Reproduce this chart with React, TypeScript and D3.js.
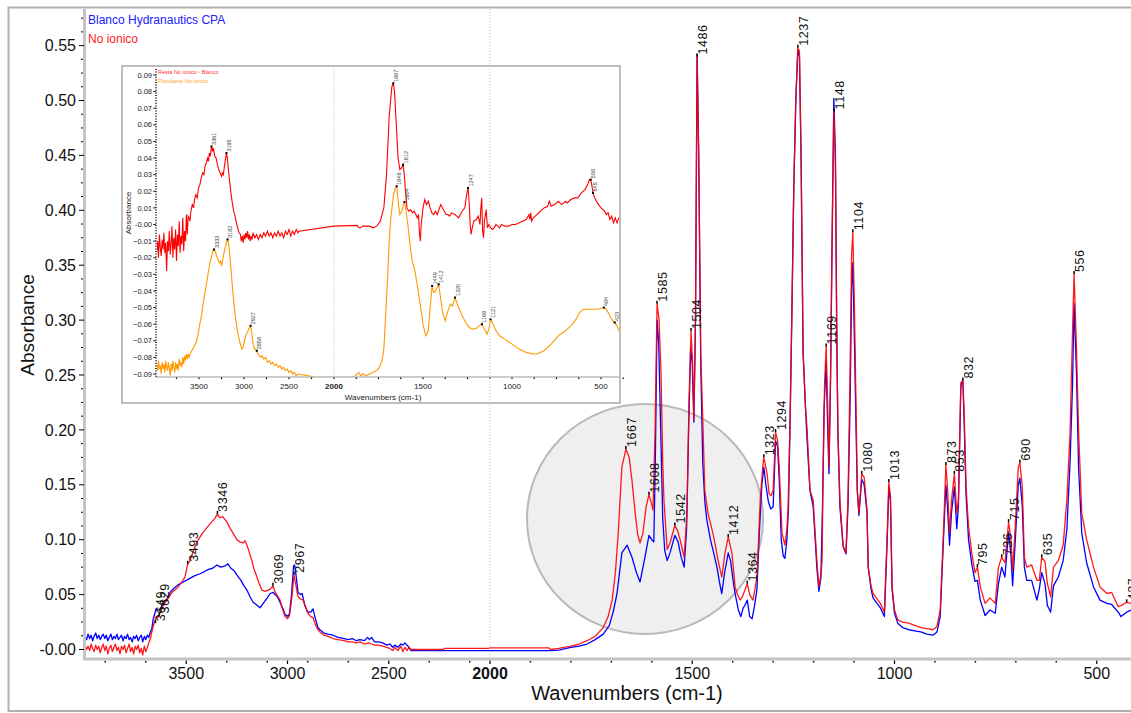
import React from 'react';
import * as d3 from 'd3';

type Pt = [number, number];

// Main chart: "Blanco Hydranautics CPA" (blue)
const blueSpectrum: Pt[] = [
  [4000,0.012],[3992,0.009],[3985,0.014],[3977,0.010],[3970,0.013],[3962,0.008],[3955,0.012],[3947,0.015],[3940,0.010],[3932,0.013],[3925,0.009],[3917,0.012],[3910,0.014],[3902,0.010],[3895,0.013],[3887,0.008],[3880,0.011],[3872,0.014],[3865,0.009],[3857,0.012],[3850,0.010],[3842,0.014],[3835,0.009],[3827,0.011],[3820,0.013],[3812,0.008],[3805,0.012],[3797,0.010],[3790,0.014],[3782,0.009],[3775,0.011],[3767,0.007],[3760,0.012],[3752,0.010],[3745,0.013],[3737,0.008],[3730,0.011],[3722,0.013],[3715,0.007],[3707,0.012],[3700,0.009],[3692,0.013],[3685,0.011],[3677,0.016],[3670,0.019],[3664,0.027],[3655,0.033],[3649,0.037],[3640,0.036],[3630,0.036],[3620,0.040],[3610,0.043],[3595,0.046],[3580,0.052],[3560,0.056],[3540,0.059],[3520,0.061],[3500,0.063],[3480,0.065],[3460,0.067],[3432,0.069],[3410,0.071],[3390,0.073],[3370,0.074],[3348,0.077],[3330,0.075],[3310,0.076],[3294,0.078],[3280,0.074],[3265,0.072],[3250,0.068],[3230,0.063],[3215,0.058],[3200,0.054],[3185,0.048],[3170,0.043],[3155,0.041],[3136,0.038],[3120,0.042],[3100,0.047],[3086,0.051],[3070,0.052],[3062,0.050],[3050,0.048],[3037,0.043],[3020,0.036],[3012,0.032],[2998,0.030],[2990,0.033],[2980,0.050],[2970,0.076],[2965,0.077],[2958,0.068],[2948,0.052],[2935,0.050],[2928,0.051],[2914,0.040],[2900,0.034],[2885,0.034],[2874,0.037],[2865,0.030],[2850,0.020],[2840,0.018],[2820,0.015],[2800,0.014],[2775,0.013],[2750,0.011],[2720,0.010],[2700,0.009],[2680,0.010],[2660,0.008],[2642,0.009],[2620,0.008],[2605,0.011],[2595,0.009],[2585,0.011],[2570,0.007],[2550,0.007],[2530,0.006],[2510,0.004],[2495,0.005],[2480,0.002],[2470,0.004],[2455,0.002],[2440,0.005],[2430,0.004],[2420,0.006],[2410,0.004],[2400,0.002],[2390,-0.001],[2200,-0.001],[2000,-0.001],[1900,-0.001],[1850,-0.001],[1830,-0.0005],[1800,0.002],[1780,0.003],[1760,0.005],[1740,0.009],[1720,0.014],[1705,0.022],[1695,0.035],[1686,0.051],[1674,0.088],[1661,0.095],[1649,0.084],[1638,0.070],[1629,0.0615],[1617,0.084],[1607,0.104],[1600,0.100],[1595,0.098],[1591,0.18],[1587,0.30],[1583,0.28],[1578,0.20],[1573,0.12],[1568,0.09],[1562,0.081],[1555,0.088],[1543,0.104],[1535,0.098],[1528,0.085],[1520,0.075],[1514,0.11],[1509,0.20],[1504,0.275],[1500,0.26],[1496,0.207],[1492,0.30],[1488,0.542],[1484,0.45],[1479,0.26],[1474,0.17],[1469,0.135],[1464,0.118],[1455,0.100],[1447,0.088],[1439,0.075],[1432,0.060],[1427,0.051],[1420,0.070],[1411,0.088],[1405,0.080],[1398,0.060],[1394,0.051],[1386,0.036],[1380,0.030],[1374,0.038],[1370,0.040],[1364,0.045],[1358,0.030],[1352,0.028],[1346,0.040],[1340,0.055],[1335,0.10],[1328,0.150],[1323,0.166],[1318,0.150],[1312,0.135],[1306,0.128],[1300,0.130],[1294,0.19],[1289,0.185],[1285,0.155],[1280,0.10],[1275,0.085],[1271,0.083],[1266,0.10],[1262,0.13],[1258,0.21],[1254,0.30],[1249,0.42],[1244,0.50],[1239,0.546],[1235,0.54],[1231,0.45],[1226,0.27],[1220,0.22],[1216,0.19],[1209,0.145],[1201,0.13],[1196,0.10],[1192,0.075],[1187,0.053],[1182,0.065],[1178,0.13],[1174,0.22],[1169,0.262],[1165,0.20],[1162,0.16],[1158,0.25],[1155,0.35],[1150,0.502],[1146,0.45],[1143,0.30],[1140,0.20],[1135,0.13],[1127,0.094],[1120,0.087],[1115,0.13],[1110,0.22],[1106,0.33],[1103,0.352],[1099,0.28],[1095,0.20],[1092,0.145],[1088,0.122],[1081,0.155],[1075,0.15],[1068,0.125],[1065,0.075],[1058,0.055],[1053,0.047],[1045,0.043],[1035,0.038],[1025,0.030],[1018,0.10],[1014,0.148],[1010,0.135],[1006,0.055],[1000,0.033],[992,0.024],[980,0.020],[965,0.018],[950,0.017],[935,0.016],[920,0.014],[905,0.013],[895,0.016],[887,0.030],[879,0.10],[873,0.150],[869,0.13],[864,0.095],[859,0.125],[852,0.148],[846,0.110],[842,0.13],[836,0.24],[831,0.245],[828,0.21],[823,0.14],[817,0.10],[809,0.078],[801,0.062],[795,0.063],[788,0.045],[776,0.031],[764,0.036],[751,0.033],[743,0.060],[735,0.075],[727,0.066],[718,0.107],[712,0.085],[708,0.058],[702,0.095],[694,0.150],[690,0.156],[684,0.13],[679,0.075],[673,0.063],[661,0.063],[648,0.045],[642,0.055],[636,0.070],[628,0.060],[622,0.040],[614,0.034],[607,0.058],[595,0.066],[583,0.081],[574,0.109],[566,0.17],[560,0.24],[556,0.315],[550,0.25],[545,0.166],[537,0.106],[525,0.079],[508,0.057],[492,0.045],[475,0.042],[463,0.041],[447,0.034],[440,0.030],[426,0.034],[415,0.036]
];

// Main chart: "No ionico" (red)
const redSpectrum: Pt[] = [
  [4000,0.004],[3992,0.000],[3985,0.003],[3977,-0.001],[3970,0.005],[3962,0.001],[3955,-0.002],[3947,0.004],[3940,0.000],[3932,0.003],[3925,-0.003],[3917,0.002],[3910,0.005],[3902,-0.001],[3895,0.003],[3887,-0.004],[3880,0.001],[3872,0.004],[3865,-0.002],[3857,0.002],[3850,0.005],[3842,-0.001],[3835,0.002],[3827,-0.004],[3820,0.003],[3812,0.000],[3805,0.004],[3797,-0.003],[3790,0.001],[3782,0.005],[3775,-0.002],[3767,0.002],[3760,-0.004],[3752,0.003],[3745,0.000],[3737,0.004],[3730,-0.003],[3722,0.001],[3715,-0.005],[3707,0.003],[3700,-0.002],[3692,0.002],[3685,0.006],[3677,0.010],[3670,0.016],[3664,0.0205],[3655,0.026],[3649,0.030],[3640,0.029],[3630,0.033],[3615,0.040],[3595,0.045],[3570,0.052],[3540,0.057],[3520,0.062],[3506,0.066],[3493,0.078],[3481,0.081],[3465,0.090],[3447,0.098],[3420,0.106],[3398,0.111],[3375,0.116],[3360,0.119],[3346,0.1235],[3335,0.120],[3320,0.121],[3299,0.116],[3285,0.111],[3269,0.106],[3250,0.100],[3235,0.098],[3220,0.097],[3210,0.099],[3200,0.095],[3188,0.088],[3176,0.081],[3165,0.073],[3151,0.066],[3140,0.060],[3126,0.054],[3110,0.053],[3096,0.054],[3085,0.055],[3072,0.058],[3060,0.052],[3050,0.049],[3037,0.045],[3025,0.037],[3012,0.030],[3000,0.028],[2990,0.031],[2978,0.048],[2968,0.068],[2960,0.060],[2948,0.048],[2935,0.046],[2923,0.045],[2910,0.038],[2899,0.033],[2885,0.030],[2874,0.029],[2865,0.024],[2850,0.018],[2840,0.016],[2820,0.013],[2800,0.012],[2775,0.010],[2750,0.009],[2720,0.008],[2700,0.007],[2680,0.007],[2660,0.006],[2642,0.007],[2620,0.005],[2600,0.006],[2585,0.005],[2570,0.004],[2550,0.004],[2530,0.003],[2510,0.002],[2495,0.001],[2480,-0.001],[2470,0.002],[2455,-0.001],[2440,0.003],[2430,-0.002],[2420,0.002],[2410,-0.001],[2400,0.002],[2390,0.000],[2230,0.000],[2225,0.001],[2005,0.001],[2000,0.0015],[1855,0.0015],[1850,0.000],[1830,0.001],[1800,0.003],[1780,0.005],[1760,0.008],[1740,0.012],[1720,0.020],[1708,0.030],[1698,0.045],[1690,0.070],[1683,0.106],[1674,0.166],[1664,0.1825],[1656,0.175],[1649,0.154],[1641,0.124],[1635,0.105],[1629,0.097],[1622,0.106],[1614,0.130],[1607,0.141],[1600,0.132],[1597,0.127],[1592,0.197],[1587,0.315],[1582,0.30],[1577,0.25],[1573,0.17],[1570,0.136],[1562,0.091],[1555,0.097],[1543,0.113],[1536,0.108],[1530,0.100],[1520,0.084],[1513,0.124],[1508,0.227],[1503,0.29],[1499,0.26],[1496,0.209],[1492,0.30],[1488,0.54],[1484,0.45],[1479,0.27],[1473,0.197],[1469,0.145],[1461,0.124],[1449,0.106],[1443,0.095],[1436,0.081],[1427,0.066],[1419,0.088],[1411,0.1025],[1402,0.088],[1394,0.057],[1388,0.050],[1382,0.045],[1376,0.048],[1370,0.054],[1364,0.060],[1358,0.050],[1350,0.045],[1345,0.055],[1340,0.066],[1336,0.10],[1332,0.136],[1326,0.165],[1323,0.175],[1315,0.160],[1310,0.142],[1305,0.140],[1300,0.145],[1294,0.198],[1289,0.19],[1285,0.166],[1278,0.106],[1271,0.095],[1266,0.11],[1263,0.130],[1258,0.212],[1254,0.30],[1249,0.42],[1244,0.50],[1239,0.548],[1235,0.545],[1231,0.45],[1226,0.273],[1220,0.22],[1216,0.20],[1209,0.145],[1201,0.136],[1196,0.105],[1192,0.081],[1187,0.057],[1182,0.068],[1179,0.081],[1177,0.148],[1173,0.24],[1169,0.276],[1165,0.22],[1162,0.166],[1158,0.25],[1155,0.35],[1150,0.49],[1146,0.44],[1143,0.30],[1140,0.20],[1135,0.136],[1127,0.094],[1120,0.088],[1115,0.136],[1110,0.25],[1106,0.36],[1103,0.38],[1099,0.31],[1095,0.22],[1092,0.145],[1088,0.124],[1081,0.16],[1075,0.157],[1068,0.127],[1065,0.075],[1058,0.058],[1053,0.051],[1045,0.047],[1035,0.042],[1025,0.034],[1018,0.106],[1014,0.1525],[1010,0.14],[1006,0.057],[1000,0.036],[992,0.027],[980,0.025],[965,0.024],[950,0.022],[935,0.020],[920,0.019],[905,0.018],[895,0.021],[887,0.036],[879,0.106],[873,0.168],[869,0.148],[864,0.106],[859,0.136],[852,0.16],[846,0.124],[842,0.136],[836,0.243],[831,0.245],[828,0.218],[823,0.148],[817,0.112],[809,0.088],[801,0.070],[795,0.075],[788,0.057],[776,0.042],[764,0.047],[751,0.042],[743,0.075],[735,0.084],[727,0.079],[718,0.116],[712,0.100],[708,0.072],[702,0.109],[694,0.166],[690,0.170],[684,0.148],[679,0.084],[673,0.075],[661,0.077],[648,0.063],[642,0.063],[636,0.084],[628,0.080],[622,0.060],[614,0.048],[607,0.075],[595,0.081],[583,0.095],[574,0.136],[566,0.197],[560,0.288],[556,0.342],[550,0.273],[545,0.20],[537,0.124],[525,0.10],[508,0.075],[492,0.057],[475,0.051],[463,0.052],[447,0.039],[440,0.040],[426,0.043],[415,0.042]
];

// Inset: "Resta No ionico - Blanco" (red)
const insetResta: Pt[] = [
  [4000,-0.012],[3990,-0.018],[3980,-0.008],[3970,-0.016],[3960,-0.010],[3950,-0.020],[3940,-0.006],[3930,-0.014],[3920,-0.019],[3910,-0.009],[3900,-0.015],[3890,-0.005],[3880,-0.017],[3870,-0.011],[3860,-0.028],[3850,-0.010],[3840,-0.016],[3830,-0.004],[3820,-0.018],[3810,-0.012],[3800,-0.001],[3790,-0.020],[3780,-0.008],[3770,-0.015],[3760,-0.003],[3750,-0.022],[3740,-0.006],[3730,-0.013],[3720,0.002],[3710,-0.017],[3700,-0.007],[3690,-0.012],[3680,0.004],[3670,-0.016],[3660,-0.004],[3650,-0.010],[3640,0.006],[3630,-0.006],[3620,0.005],[3610,0.004],[3600,0.002],[3590,0.008],[3575,0.012],[3560,0.010],[3550,0.015],[3535,0.018],[3520,0.016],[3505,0.022],[3490,0.024],[3475,0.028],[3460,0.031],[3445,0.030],[3433,0.035],[3420,0.037],[3405,0.040],[3395,0.038],[3385,0.043],[3375,0.041],[3361,0.047],[3350,0.044],[3340,0.046],[3325,0.041],[3310,0.040],[3295,0.036],[3280,0.033],[3265,0.031],[3250,0.029],[3240,0.031],[3230,0.030],[3220,0.034],[3210,0.038],[3195,0.043],[3185,0.040],[3175,0.034],[3160,0.026],[3145,0.019],[3130,0.013],[3115,0.008],[3100,0.005],[3085,0.001],[3070,-0.002],[3055,-0.005],[3040,-0.006],[3030,-0.010],[3020,-0.007],[3010,-0.011],[3000,-0.006],[2990,-0.009],[2980,-0.005],[2970,-0.008],[2960,-0.004],[2950,-0.009],[2940,-0.006],[2930,-0.010],[2920,-0.007],[2910,-0.009],[2900,-0.005],[2880,-0.008],[2860,-0.006],[2840,-0.009],[2820,-0.006],[2800,-0.008],[2780,-0.005],[2760,-0.007],[2740,-0.004],[2720,-0.007],[2700,-0.005],[2680,-0.008],[2660,-0.005],[2640,-0.007],[2620,-0.004],[2600,-0.007],[2580,-0.005],[2560,-0.008],[2540,-0.004],[2520,-0.006],[2500,-0.003],[2480,-0.007],[2460,-0.004],[2440,-0.006],[2420,-0.003],[2400,-0.005],[2390,-0.004],[2000,-0.001],[1870,-0.0005],[1860,-0.002],[1850,-0.002],[1840,-0.001],[1800,-0.001],[1780,-0.002],[1760,-0.001],[1740,0.002],[1720,0.010],[1705,0.030],[1690,0.065],[1675,0.083],[1667,0.085],[1660,0.080],[1650,0.060],[1640,0.040],[1630,0.033],[1620,0.034],[1612,0.036],[1605,0.030],[1598,0.020],[1590,0.010],[1580,0.008],[1570,0.009],[1560,0.007],[1550,0.008],[1540,0.006],[1532,0.004],[1525,0.006],[1520,-0.005],[1515,-0.010],[1510,0.000],[1500,0.010],[1490,0.015],[1480,0.012],[1470,0.014],[1460,0.010],[1450,0.007],[1440,0.006],[1430,0.008],[1420,0.006],[1410,0.009],[1400,0.012],[1390,0.010],[1380,0.008],[1370,0.006],[1360,0.006],[1350,0.005],[1340,0.007],[1320,0.006],[1300,0.004],[1280,0.008],[1265,0.010],[1255,0.018],[1247,0.022],[1240,0.012],[1235,0.000],[1230,-0.006],[1225,-0.003],[1215,0.002],[1200,0.003],[1190,0.005],[1180,0.000],[1175,0.010],[1170,0.016],[1165,-0.004],[1160,-0.008],[1155,0.002],[1145,0.009],[1138,-0.002],[1130,0.000],[1120,-0.002],[1110,-0.003],[1100,-0.002],[1090,0.000],[1080,-0.001],[1070,-0.002],[1060,0.000],[1040,-0.001],[1020,-0.001],[1000,0.000],[980,0.000],[960,0.001],[940,0.002],[920,0.003],[905,0.006],[900,0.003],[895,0.007],[890,0.002],[880,0.004],[860,0.006],[840,0.008],[820,0.010],[800,0.011],[790,0.014],[780,0.011],[760,0.012],[740,0.014],[720,0.012],[700,0.014],[690,0.013],[670,0.015],[650,0.016],[630,0.016],[610,0.019],[590,0.021],[575,0.024],[565,0.027],[558,0.027],[552,0.024],[545,0.019],[535,0.016],[520,0.013],[500,0.010],[480,0.008],[470,0.006],[460,0.007],[450,0.003],[440,0.005],[430,0.001],[420,0.004],[410,0.001],[400,0.004]
];

// Inset: "Floculante No ionico" (orange)
const insetFloculante: Pt[] = [
  [4000,-0.086],[3990,-0.083],[3980,-0.089],[3970,-0.084],[3960,-0.088],[3950,-0.082],[3940,-0.087],[3930,-0.085],[3920,-0.090],[3910,-0.083],[3900,-0.087],[3890,-0.084],[3880,-0.089],[3870,-0.082],[3860,-0.086],[3850,-0.088],[3840,-0.083],[3830,-0.087],[3820,-0.091],[3810,-0.084],[3800,-0.088],[3790,-0.082],[3780,-0.086],[3770,-0.089],[3760,-0.083],[3750,-0.087],[3740,-0.084],[3730,-0.088],[3720,-0.081],[3710,-0.085],[3700,-0.083],[3690,-0.086],[3680,-0.080],[3670,-0.084],[3660,-0.079],[3650,-0.082],[3640,-0.078],[3630,-0.081],[3620,-0.078],[3610,-0.080],[3600,-0.078],[3580,-0.076],[3560,-0.074],[3540,-0.072],[3526,-0.070],[3510,-0.066],[3495,-0.061],[3480,-0.057],[3470,-0.054],[3455,-0.048],[3440,-0.043],[3425,-0.038],[3411,-0.034],[3395,-0.028],[3378,-0.023],[3360,-0.019],[3345,-0.016],[3333,-0.015],[3320,-0.016],[3305,-0.019],[3290,-0.021],[3275,-0.023],[3260,-0.022],[3250,-0.025],[3240,-0.022],[3225,-0.018],[3210,-0.014],[3195,-0.011],[3182,-0.009],[3170,-0.012],[3155,-0.020],[3140,-0.030],[3125,-0.040],[3110,-0.049],[3090,-0.058],[3070,-0.065],[3050,-0.070],[3035,-0.073],[3022,-0.075],[3010,-0.074],[2995,-0.070],[2975,-0.066],[2955,-0.064],[2940,-0.062],[2927,-0.061],[2915,-0.065],[2900,-0.071],[2885,-0.075],[2870,-0.075],[2858,-0.076],[2845,-0.078],[2830,-0.079],[2815,-0.080],[2800,-0.079],[2780,-0.081],[2760,-0.080],[2740,-0.083],[2720,-0.082],[2700,-0.084],[2680,-0.083],[2660,-0.085],[2640,-0.084],[2620,-0.086],[2600,-0.085],[2580,-0.087],[2560,-0.086],[2540,-0.088],[2520,-0.087],[2500,-0.089],[2480,-0.088],[2460,-0.090],[2440,-0.089],[2420,-0.091],[2400,-0.090],[2300,-0.091],[2200,-0.092],[2000,-0.092],[1900,-0.092],[1880,-0.091],[1860,-0.089],[1850,-0.091],[1835,-0.090],[1820,-0.091],[1800,-0.090],[1780,-0.089],[1760,-0.088],[1745,-0.086],[1730,-0.082],[1720,-0.075],[1710,-0.055],[1700,-0.035],[1690,-0.010],[1680,0.005],[1665,0.018],[1655,0.022],[1648,0.023],[1638,0.012],[1630,0.006],[1620,0.008],[1610,0.012],[1604,0.0135],[1595,0.008],[1585,0.000],[1570,-0.015],[1560,-0.022],[1545,-0.028],[1520,-0.045],[1500,-0.060],[1485,-0.067],[1470,-0.064],[1460,-0.050],[1449,-0.037],[1440,-0.041],[1430,-0.040],[1412,-0.036],[1400,-0.045],[1390,-0.053],[1375,-0.058],[1360,-0.052],[1345,-0.048],[1335,-0.049],[1320,-0.044],[1300,-0.050],[1280,-0.055],[1260,-0.059],[1240,-0.062],[1220,-0.063],[1200,-0.0625],[1185,-0.061],[1169,-0.060],[1155,-0.063],[1140,-0.066],[1130,-0.063],[1121,-0.057],[1110,-0.059],[1090,-0.064],[1070,-0.067],[1040,-0.069],[1000,-0.072],[960,-0.075],[920,-0.077],[880,-0.078],[860,-0.078],[820,-0.076],[780,-0.072],[740,-0.067],[700,-0.064],[660,-0.060],[640,-0.057],[620,-0.053],[600,-0.051],[560,-0.051],[520,-0.051],[484,-0.050],[470,-0.051],[450,-0.055],[435,-0.058],[423,-0.059],[410,-0.061],[400,-0.064]
];

// Peak labels: [text, wavenumber, absorbance at the marker]
const mainPeakLabels: [string, number, number][] = [
  ['3649', 3652, 0.024], ['3629', 3633, 0.031], ['3493', 3493, 0.078], ['3346', 3346, 0.1235],
  ['3069', 3072, 0.058], ['2967', 2968, 0.068], ['1667', 1664, 0.1825], ['1608', 1607, 0.141],
  ['1585', 1587, 0.315], ['1542', 1543, 0.113], ['1504', 1503, 0.29], ['1486', 1488, 0.54],
  ['1412', 1411, 0.1025], ['1364', 1364, 0.060], ['1323', 1323, 0.175], ['1294', 1294, 0.198],
  ['1237', 1239, 0.548], ['1169', 1169, 0.276], ['1148', 1150, 0.49], ['1104', 1103, 0.38],
  ['1080', 1081, 0.16], ['1013', 1014, 0.1525], ['873', 873, 0.168], ['853', 852, 0.16],
  ['832', 831, 0.245], ['795', 795, 0.075], ['736', 735, 0.084], ['715', 718, 0.116],
  ['690', 690, 0.170], ['635', 636, 0.084], ['556', 556, 0.342], ['427', 426, 0.043]
];
const insetRestaPeaks: [string, number, number][] = [
  ['3361', 3361, 0.047], ['3195', 3195, 0.043], ['1667', 1667, 0.085], ['1612', 1612, 0.036],
  ['1247', 1247, 0.022], ['558', 558, 0.027], ['545', 545, 0.019]
];
const insetFloculantePeaks: [string, number, number][] = [
  ['3333', 3333, -0.015], ['3182', 3182, -0.009], ['2927', 2927, -0.061], ['2858', 2858, -0.076],
  ['1648', 1648, 0.023], ['1604', 1604, 0.0135], ['1449', 1449, -0.037], ['1412', 1412, -0.036],
  ['1320', 1320, -0.044], ['1169', 1169, -0.060], ['1121', 1121, -0.057], ['484', 484, -0.050],
  ['423', 423, -0.059]
];

const xMajorTicks = [3500, 3000, 2500, 2000, 1500, 1000, 500];
const xMinorTicks = [3900, 3700, 3300, 3100, 2900, 2700, 2300, 2100, 1900, 1800, 1700, 1600, 1400, 1300, 1200, 1100, 900, 800, 700, 600];
const yMajorTicks = [0, 0.05, 0.1, 0.15, 0.2, 0.25, 0.3, 0.35, 0.4, 0.45, 0.5, 0.55];
const insetYTicks = [0.09, 0.08, 0.07, 0.06, 0.05, 0.04, 0.03, 0.02, 0.01, 0, -0.01, -0.02, -0.03, -0.04, -0.05, -0.06, -0.07, -0.08, -0.09];
const insetXMinor = [3750, 3250, 2750, 2250, 1875, 1750, 1625, 1375, 1250, 1125, 875, 750, 625, 375];

const FONT = 'Liberation Sans, Arial, Helvetica, sans-serif';

export default function App() {
  const W = 1131, H = 713;
  const x = d3.scaleLinear().domain([4000, 2000, 400]).range([85, 490, 1137.2]);
  const y = d3.scaleLinear().domain([0, 0.55]).range([649.5, 45.6]);
  const line = d3.line<Pt>().x(d => x(d[0])).y(d => y(d[1]));

  const xi = d3.scaleLinear().domain([4000, 2000, 400]).range([154, 334, 618.8]);
  const yi = d3.scaleLinear().domain([-0.09, 0.09]).range([374, 75]);
  const iline = d3.line<Pt>().x(d => xi(d[0])).y(d => yi(d[1]));

  const yMinor = d3.range(0, 0.58, 0.0125).filter(v => Math.abs(v / 0.05 - Math.round(v / 0.05)) > 0.01);
  const fmtY = (v: number) => (Math.abs(v) < 1e-9 ? '-0.00' : d3.format('.2f')(v));
  const fmtYi = (v: number) => (Math.abs(v) < 1e-9 ? '-0.00' : d3.format('.2f')(v));

  return (
    <svg width={W} height={H} style={{ position: 'absolute', left: 0, top: 0, background: '#fff' }} fontFamily={FONT}>
      <defs>
        <clipPath id="mainClip"><rect x={86} y={9} width={W - 86} height={649} /></clipPath>
        <clipPath id="insetClip"><rect x={157} y={68} width={463} height={309} /></clipPath>
      </defs>
      <rect x={0} y={0} width={W} height={H} fill="#fff" />
      {/* outer frame */}
      <rect x={8.5} y={7.5} width={W + 10} height={703.5} fill="none" stroke="#b0b0b0" strokeWidth={2} />

      {/* highlight circle */}
      <ellipse cx={645} cy={519} rx={118} ry={115} fill="#efefef" stroke="#b9b9b9" strokeWidth={2} />

      {/* main spectra */}
      <g clipPath="url(#mainClip)">
        <path d={line(blueSpectrum) || ''} fill="none" stroke="#0000ff" strokeWidth={1.3} strokeLinejoin="round" />
        <path d={line(redSpectrum) || ''} fill="none" stroke="#ff0000" strokeWidth={1.3} strokeLinejoin="round" strokeOpacity={0.9} />
        {mainPeakLabels.map(([t, wn, v], i) => {
          const px = x(wn), py = y(v);
          return (
            <g key={i}>
              <line x1={px} x2={px} y1={py} y2={py - 3} stroke="#000" strokeWidth={1.5} />
              <text transform={`translate(${px + 10},${py - 2}) rotate(-90)`} fontSize={12.5} letterSpacing={0.6} fill="#111">{t}</text>
            </g>
          );
        })}
      </g>

      {/* inset */}
      <rect x={122} y={66} width={498} height={337} fill="#fff" stroke="#a8a8a8" strokeWidth={1.5} />
      <line x1={xi(2000)} x2={xi(2000)} y1={68} y2={377} stroke="#c8c8c8" strokeWidth={1} strokeDasharray="1 1.5" />
      <g clipPath="url(#insetClip)">
        <path d={iline(insetFloculante) || ''} fill="none" stroke="#ff9900" strokeWidth={1.1} />
        <path d={iline(insetResta) || ''} fill="none" stroke="#ff0000" strokeWidth={1.1} />
        {insetRestaPeaks.concat(insetFloculantePeaks).map(([t, wn, v], i) => {
          const px = xi(wn), py = yi(v);
          return (
            <g key={i}>
              <rect x={px - 1} y={py - 1} width={2} height={2} fill="#000" />
              <text transform={`translate(${px + 4.5},${py - 1.5}) rotate(-90)`} fontSize={5.5} fill="#444">{t}</text>
            </g>
          );
        })}
      </g>
      {/* inset axes */}
      <line x1={156} x2={620} y1={377} y2={377} stroke="#bdbdbd" strokeWidth={1.5} />
      {xMajorTicks.concat(insetXMinor).map((t, i) => (
        <rect key={i} x={xi(t) - 0.6} y={377.5} width={1.2} height={1.5} fill="#000" />
      ))}
      {xMajorTicks.map(t => (
        <text key={t} x={xi(t)} y={389} fontSize={8} textAnchor="middle" fontWeight={t === 2000 ? 'bold' : 'normal'} fill="#222">{t}</text>
      ))}
      <text x={383} y={400} fontSize={8} textAnchor="middle" fill="#222">Wavenumbers (cm-1)</text>
      <line x1={156} x2={156} y1={69} y2={377} stroke="#000" strokeWidth={1.5} strokeDasharray="1 1.6" />
      {insetYTicks.map(t => (
        <g key={t}>
          <line x1={153} x2={156} y1={yi(t)} y2={yi(t)} stroke="#000" strokeWidth={0.8} />
          <text x={152} y={yi(t)} dy="0.35em" fontSize={7.5} textAnchor="end" fill="#222">{fmtYi(t)}</text>
        </g>
      ))}
      <text transform="translate(130.5,213) rotate(-90)" fontSize={8} textAnchor="middle" fill="#222">Absorbance</text>
      <text x={158} y={74} fontSize={5.5} fill="#ff3030">Resta No ionico - Blanco</text>
      <text x={158} y={83} fontSize={5.5} fill="#ffa020">Floculante No ionico</text>

      {/* 2000 gridline of main chart */}
      <line x1={x(2000)} x2={x(2000)} y1={9} y2={657} stroke="#bdbdbd" strokeWidth={1} strokeDasharray="1 2" />

      {/* main y axis */}
      <line x1={84.5} x2={84.5} y1={9} y2={660} stroke="#c4c4c4" strokeWidth={3} />
      {yMajorTicks.map(t => (
        <g key={t}>
          <line x1={79} x2={84} y1={y(t)} y2={y(t)} stroke="#000" strokeWidth={1} />
          <text x={76} y={y(t)} dy="0.35em" fontSize={16} textAnchor="end" fill="#111">{fmtY(t)}</text>
        </g>
      ))}
      {yMinor.filter(v => y(v) > 10).map((v, i) => (
        <line key={i} x1={81} x2={83} y1={y(v)} y2={y(v)} stroke="#000" strokeWidth={1} />
      ))}
      <text transform="translate(34,325) rotate(-90)" fontSize={19} textAnchor="middle" fill="#111">Absorbance</text>

      {/* main x axis */}
      <line x1={83} x2={W} y1={659} y2={659} stroke="#c4c4c4" strokeWidth={3} />
      {xMajorTicks.map(t => (
        <g key={t}>
          <line x1={x(t)} x2={x(t)} y1={660.5} y2={664} stroke="#000" strokeWidth={1.2} />
          <text x={x(t)} y={679} fontSize={16} textAnchor="middle" fontWeight={t === 2000 ? 'bold' : 'normal'} fill="#111">{t}</text>
        </g>
      ))}
      {xMinorTicks.map(t => (
        <rect key={t} x={x(t) - 0.75} y={661} width={1.5} height={1.5} fill="#000" />
      ))}
      <text x={627} y={700} fontSize={20} textAnchor="middle" fill="#111">Wavenumbers (cm-1)</text>

      {/* legend */}
      <text x={88} y={24} fontSize={12} fill="#2020ff">Blanco Hydranautics CPA</text>
      <text x={88} y={43} fontSize={12} fill="#ff2020">No ionico</text>
    </svg>
  );
}
